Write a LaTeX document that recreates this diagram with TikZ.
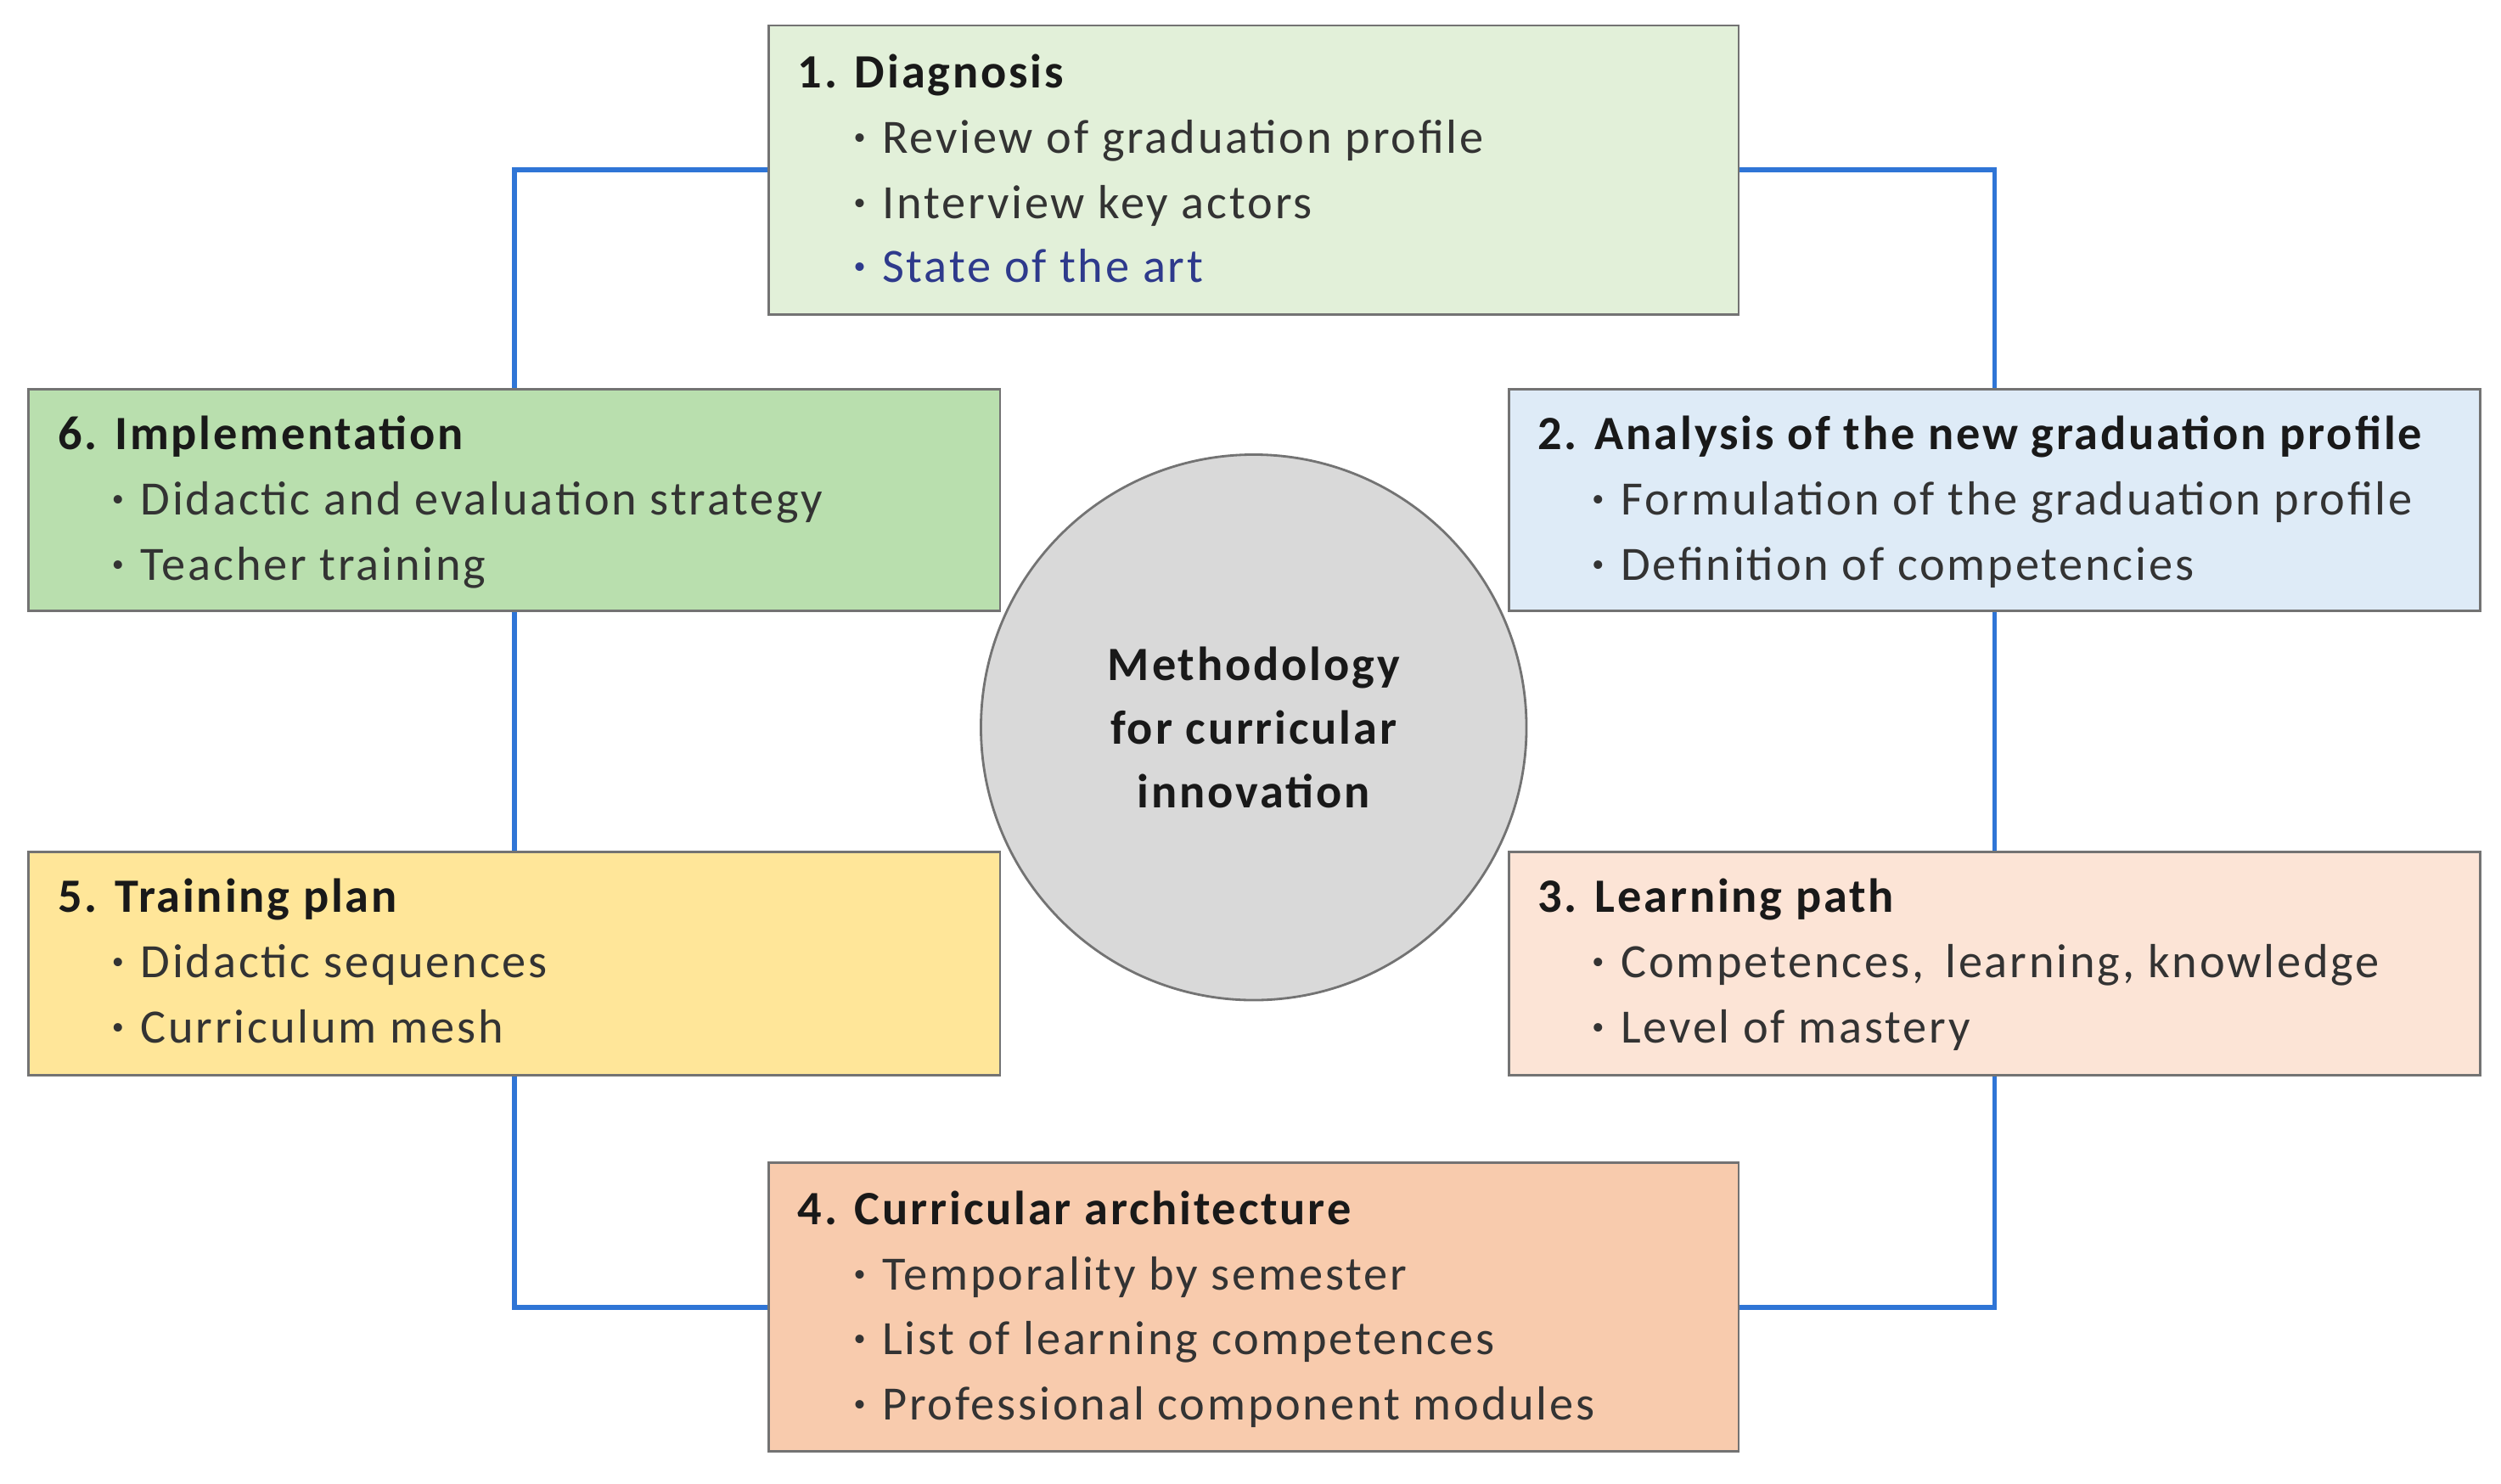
\documentclass[tikz,border=0pt]{standalone}
\usepackage{fontspec}
\setmainfont{Carlito}[LetterSpace=5]
\newcommand{\bul}{\raisebox{0.18em}{\fontsize{15}{15}\selectfont•}\hspace{0.35em}}
\begin{document}
\begin{tikzpicture}[x=1pt,y=-1pt,
 box/.style={draw=black!55,line width=1.5pt,inner sep=0pt},
 ttl/.style={anchor=base west,font=\fontsize{30}{30}\selectfont\bfseries,text=black!90,inner sep=0pt},
 itm/.style={anchor=base west,font=\fontsize{30}{30}\selectfont,text=black!80,inner sep=0pt}]
\useasboundingbox (0,0) rectangle (1568,930);
\definecolor{c1}{HTML}{E2F0D9}\definecolor{c6}{HTML}{B9DFAE}
\definecolor{c2}{HTML}{DEEBF7}\definecolor{c5}{HTML}{FFE699}
\definecolor{c3}{HTML}{FCE4D6}\definecolor{c4}{HTML}{F8CBAD}
\definecolor{lnk}{HTML}{2F75D6}\definecolor{dk}{HTML}{2E3A8C}
\tikzset{con/.style={draw=lnk,line width=3pt}}
\path (786,106.5) coordinate (p1) (322.5,313.5) coordinate (p6) (1250.5,313.5) coordinate (p2)
 (322.5,604) coordinate (p5) (1250.5,604) coordinate (p3) (786,819.5) coordinate (p4);
\node[minimum width=608,minimum height=181,inner sep=0pt] (b1) at (p1) {};
\node[minimum width=609,minimum height=139,inner sep=0pt] (b6) at (p6) {};
\node[minimum width=609,minimum height=139,inner sep=0pt] (b2) at (p2) {};
\node[minimum width=609,minimum height=140,inner sep=0pt] (b5) at (p5) {};
\node[minimum width=609,minimum height=140,inner sep=0pt] (b3) at (p3) {};
\node[minimum width=608,minimum height=181,inner sep=0pt] (b4) at (p4) {};
\draw[con] (b1.west) -| (b6.north);
\draw[con] (b6.south) -- (b5.north);
\draw[con] (b5.south) |- (b4.west);
\draw[con] (b1.east) -| (b2.north);
\draw[con] (b2.south) -- (b3.north);
\draw[con] (b3.south) |- (b4.east);
\node[box,fill=c1,minimum width=608,minimum height=181] at (p1) {};
\node[box,fill=c4,minimum width=608,minimum height=181] at (p4) {};
\node[box,fill=c6,minimum width=609,minimum height=139] at (p6) {};
\node[box,fill=c2,minimum width=609,minimum height=139] at (p2) {};
\node[box,fill=c5,minimum width=609,minimum height=140] at (p5) {};
\node[box,fill=c3,minimum width=609,minimum height=140] at (p3) {};
\node[circle,draw=black!55,line width=1.5pt,fill=black!15,minimum size=342,align=center,
 font=\fontsize{30}{40}\selectfont\bfseries,text=black!90] (c) at (786,456) {Methodology\\for curricular\\innovation};
% box 1
\node[ttl] (t1) at (500,55) {1. Diagnosis};
\node[itm] (i11) at (535,96) {\bul Review of graduation profile};
\node[itm] (i12) at (535,137) {\bul Interview key actors};
\node[itm,text=dk] (i13) at (535,177) {\bul State of the art};
% box 6
\node[ttl] (t6) at (36,282) {6. Implementation};
\node[itm] (i61) at (70,323) {\bul Didactic and evaluation strategy};
\node[itm] (i62) at (70,364) {\bul Teacher training};
% box 2
\node[ttl] (t2) at (964,282) {2. Analysis of the new graduation profile};
\node[itm] (i21) at (998,323) {\bul Formulation of the graduation profile};
\node[itm] (i22) at (998,364) {\bul Definition of competencies};
% box 5
\node[ttl] (t5) at (36,572) {5. Training plan};
\node[itm] (i51) at (70,613) {\bul Didactic sequences};
\node[itm] (i52) at (70,654) {\bul Curriculum mesh};
% box 3
\node[ttl] (t3) at (964,572) {3. Learning path};
\node[itm] (i31) at (998,613) {\bul Competences,\, learning, knowledge};
\node[itm] (i32) at (998,654) {\bul Level of mastery};
% box 4
\node[ttl] (t4) at (500,768) {4. Curricular architecture};
\node[itm] (i41) at (535,809) {\bul Temporality by semester};
\node[itm] (i42) at (535,849) {\bul List of learning competences};
\node[itm] (i43) at (535,890) {\bul Professional component modules};
\end{tikzpicture}
\end{document}
